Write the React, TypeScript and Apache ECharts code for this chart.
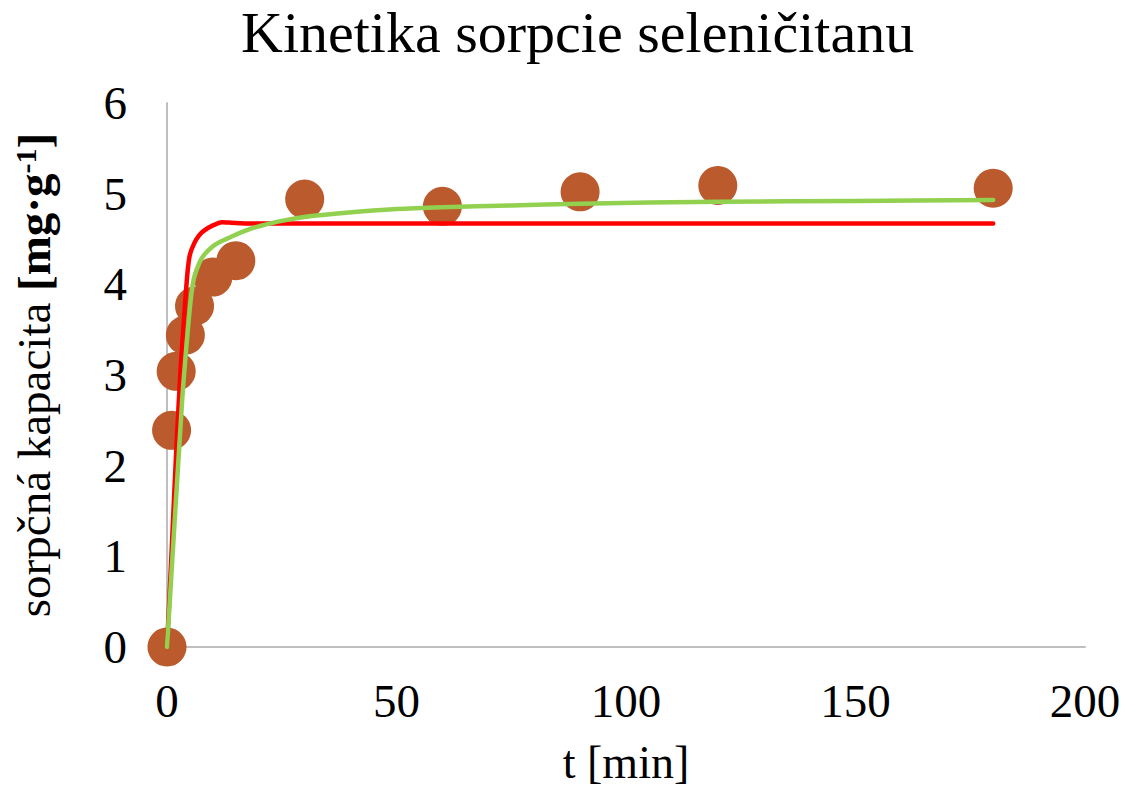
import React, { useEffect, useRef } from "react";
import * as echarts from "echarts";

// Experimental data
const tExp = [0, 1, 2, 4, 6, 10, 15, 30, 60, 90, 120, 180];
const qExp = [0, 2.39, 3.04, 3.44, 3.76, 4.08, 4.26, 4.94, 4.86, 5.02, 5.09, 5.06];

// Red fitted curve
const tRed = [0, 1, 2, 3, 4, 4.5, 5, 6, 7, 8, 10, 12, 14, 18, 30, 60, 90, 120, 180];
const qRed = [0, 1.05, 2.15, 3.1, 3.83, 4.15, 4.33, 4.46, 4.54, 4.59, 4.65, 4.685, 4.68, 4.67, 4.67, 4.67, 4.67, 4.67, 4.67];

// Green fitted curve
const tGreen = [0, 3.3, 4.2, 5.1, 5.8, 7, 8, 10, 11.6, 13.8, 16, 18, 20, 25, 31, 39, 50, 60, 75, 90, 120, 150, 180];
const qGreen = [0, 2.72, 3.3, 3.8, 4.05, 4.23, 4.32, 4.42, 4.47, 4.52, 4.57, 4.61, 4.64, 4.7, 4.75, 4.79, 4.83, 4.85, 4.87, 4.89, 4.91, 4.92, 4.93];

const xTicks = { min: 0, max: 200, interval: 50 };
const yTicks = { min: 0, max: 6, interval: 1 };

const FONT = "'Liberation Serif', 'Times New Roman', serif";

export default function App() {
  const ref = useRef<HTMLDivElement>(null);
  useEffect(() => {
    if (!ref.current) return;
    const chart = echarts.init(ref.current, undefined, { renderer: "svg" });
    const zip = (a: number[], b: number[]) => a.map((v, i) => [v, b[i]]);
    chart.setOption({
      animation: false,
      backgroundColor: "#ffffff",
      title: {
        text: "Kinetika sorpcie seleničitanu",
        left: 236,
        top: -2,
        textStyle: { fontFamily: FONT, fontSize: 58, fontWeight: "normal", color: "#000" },
      },
      grid: { left: 167, right: 39, top: 103, bottom: 145 },
      xAxis: {
        type: "value",
        ...xTicks,
        name: "t [min]",
        nameLocation: "middle",
        nameGap: 92,
        nameTextStyle: { fontFamily: FONT, fontSize: 46, color: "#000" },
        axisLine: { show: true, lineStyle: { color: "#bfbfbf", width: 2 } },
        axisTick: { show: false },
        splitLine: { show: false },
        axisLabel: { fontFamily: FONT, fontSize: 47, color: "#000", margin: 30 },
      },
      yAxis: {
        type: "value",
        ...yTicks,
        name: "{n|sorpčná kapacita }{b|[mg·g}{s|-1}{b|]}",
        nameLocation: "middle",
        nameGap: 110,
        nameRotate: 90,
        nameTextStyle: {
          fontFamily: FONT,
          fontSize: 47,
          color: "#000",
          rich: {
            n: { fontFamily: FONT, fontSize: 47, color: "#000" },
            b: { fontFamily: FONT, fontSize: 47, fontWeight: "bold", color: "#000" },
            s: { fontFamily: FONT, fontSize: 30, fontWeight: "bold", color: "#000", verticalAlign: "top", lineHeight: 47 },
          },
        },
        axisLine: { show: true, lineStyle: { color: "#bfbfbf", width: 2 } },
        axisTick: { show: false },
        splitLine: { show: false },
        axisLabel: { fontFamily: FONT, fontSize: 47, color: "#000", margin: 40 },
      },
      series: [
        {
          type: "scatter",
          data: zip(tExp, qExp),
          symbol: "circle",
          symbolSize: 39,
          itemStyle: { color: "#BB5A2C", opacity: 1 },
          z: 2,
        },
        {
          type: "line",
          data: zip(tRed, qRed),
          showSymbol: false,
          symbol: "none",
          smooth: 0.2,
          lineStyle: { color: "#FF0000", width: 4.5, cap: "round", join: "round" },
          z: 3,
        },
        {
          type: "line",
          data: zip(tGreen, qGreen),
          showSymbol: false,
          symbol: "none",
          smooth: 0.3,
          lineStyle: { color: "#92D050", width: 4.5, cap: "round", join: "round" },
          z: 4,
        },
      ],
    });
    return () => chart.dispose();
  }, []);
  return (
    <div
      ref={ref}
      style={{ position: "fixed", left: 0, top: 0, width: 1124, height: 792, background: "#fff" }}
    />
  );
}
